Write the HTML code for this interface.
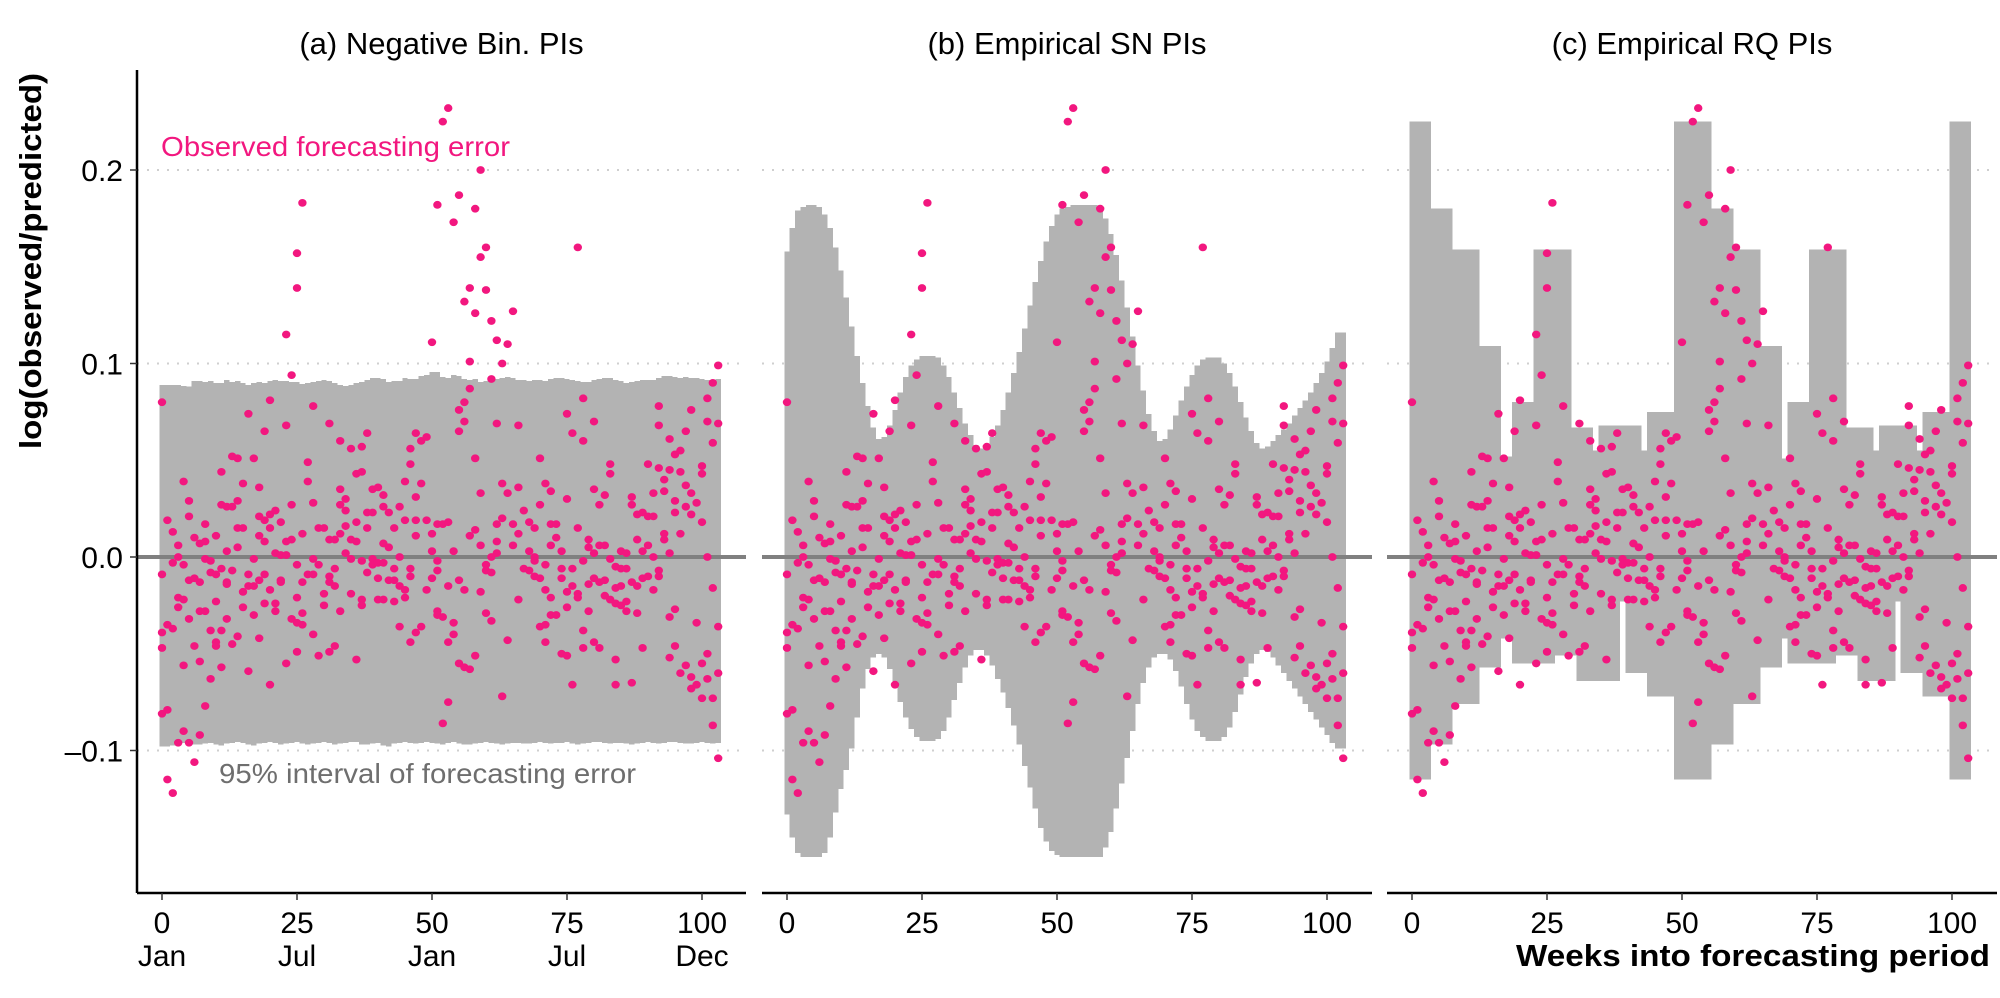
<!DOCTYPE html>
<html><head><meta charset="utf-8"><style>
html,body{margin:0;padding:0;background:#fff}
svg{display:block}
text{font-family:"Liberation Sans",sans-serif}
</style></head><body>
<svg id="chart" width="2000" height="998" viewBox="0 0 2000 998" xmlns="http://www.w3.org/2000/svg"></svg>
<script>
// ---------- data ----------
const panelTitles=["(a) Negative Bin. PIs","(b) Empirical SN PIs","(c) Empirical RQ PIs"];
const yTicks=[0.2,0.1,0.0,-0.1];
const yTickLabels=["0.2","0.1","0.0","\u20130.1"];
const xTicks=[0,25,50,75,100];
const monthLabels=["Jan","Jul","Jan","Jul","Dec"];
// observed errors, index = week
const obsByWeek=[
[.080,-.009,-.039,-.047,-.081],[.019,-.035,-.079,-.115],[.013,-.003,-.037,-.122],[.006,0,-.021,-.026,-.096],
[.039,-.004,-.022,-.056,-.090],[.029,.021,-.012,-.032,-.096],[.010,-.011,-.046,-.106],[.007,-.013,-.028,-.054,-.092],
[.017,.008,-.001,-.028,-.077],[-.002,-.008,-.038,-.063],[.011,-.009,-.023,-.044,-.046],[.044,.027,-.006,-.038,-.057],
[.026,.003,-.013,-.032,-.014],[.052,.026,-.007,-.045],[.051,.029,.015,.005,-.041],[.038,.015,-.018,-.026],
[.074,-.009,-.015,-.059],[.051,-.001,-.015,-.030],[.036,.021,.011,-.012,-.042],[.065,.019,.008,-.009,-.024],
[.081,.022,.015,-.017,-.066],[.024,.002,-.024,-.028],[.018,.001,-.012,-.013],[.115,.068,.008,.001,-.055],
[.094,.027,.009,-.032],[.157,.139,-.004,-.021,-.034,-.049],[.183,.012,-.013,-.029,-.035],[.049,.039,-.009],
[.078,.028,-.001,-.009,-.040],[.015,-.004,-.051],[.015,-.019,-.025],[.069,.009,-.010,-.013,-.049],
[.009,-.006,-.015,-.046],[.060,.035,.027,.012,-.028],[.030,.024,.016,.002],[.056,.009,-.001,-.019],
[.043,.018,.008,-.053],[.057,.044,-.002,-.022,-.025],[.064,.023,.015,-.008],[.035,.023,-.001,-.004],
[.036,-.003,-.011,-.022],[.032,.026,.007,-.003,-.022],[.023,.005,-.012],[.015,-.006,-.012,-.023],
[.026,0,-.015,-.036],[.039,.019,-.017,-.021],[.056,.048,-.006,-.010,-.044],[.064,.031,.019,.011,-.039],
[.060,.038,-.036],[.062,.019,-.017],[.111,.012,.003,-.011],[.182,.017,-.002,-.007,-.028,-.030],
[.225,.017,-.031,-.086],[.232,.018,-.015,-.044,-.075],[.173,.003,-.034,-.040],[.187,.076,.065,-.012,-.055],
[.132,.080,.070,-.017,-.057],[.139,.101,.087,.011,-.058],[.180,.126,.051,.014,-.051],[.200,.155,.033,.006,-.018],
[.160,.138,-.004,-.007,-.029],[.122,.092,0,-.008,-.033],[.112,.069,.017,.008,.002],[.100,.038,.020,-.072],
[.110,.033,-.043],[.127,.017,.006],[.068,.036,.012,-.022],[.024,-.006],
[.018,.003,-.007],[.015,0,-.002,-.010],[.051,.027,-.011,-.036],[.038,-.004,-.017,-.035,-.044],
[.034,.017,.006,-.021,-.030],[.017,.010,-.030],[.003,-.006,-.011,-.050],[.074,.030,-.018,-.026,-.051],
[.064,-.006,-.015,-.066],[.160,.015,-.019,-.021],[.082,.060,-.002,-.038,-.047],[.009,.005,-.014,-.028],
[.070,.035,.002,-.011,-.044],[.027,.006,-.013,-.047],[.032,.006,-.012,-.020],[.048,.043,-.001,-.022],
[-.005,-.016,-.024,-.053,-.066],[.003,-.006,-.015,-.025],[.002,-.006,-.023,-.028],[.031,.027,-.013,-.065],
[.022,.009,-.015,-.029],[.023,.003,-.011,-.047],[.048,.021,.006,-.010],[.033,.021,0,-.017],
[.078,.068,.046,-.007,-.010],[.040,.034,.012,.009],[.061,.045,.002,-.031,-.052],[.053,.029,.023,-.027,-.046],
[.055,.044,.012,-.060],[.065,.037,.026,-.056],[.076,.033,.022,-.062,-.068],[.028,-.034,-.066],
[.047,.043,.018,-.055,-.073],[.082,.070,0,-.050,-.063],[.090,.059,-.016,-.073,-.087],[.099,.069,-.036,-.060,-.104]
];
// (a) negative binomial interval, per week
const aUpper=[.089,.089,.089,.089,.0885,.088,.091,.091,.0905,.091,.09,.09,.0915,.0905,.091,.09,.089,.09,.0905,.09,.091,.0915,.091,.091,.0905,.0905,.0895,.09,.0905,.091,.0915,.091,.09,.089,.0885,.089,.09,.0905,.0915,.0925,.0925,.092,.0905,.091,.091,.0925,.092,.092,.0935,.094,.0955,.0955,.093,.0925,.094,.0935,.092,.0915,.092,.0905,.091,.0915,.092,.0925,.093,.0925,.0915,.0915,.091,.0915,.0915,.091,.092,.0925,.0925,.092,.0915,.091,.0905,.0905,.0915,.092,.0925,.0925,.0915,.091,.09,.0905,.091,.0915,.0915,.0915,.0925,.0935,.0935,.093,.0925,.093,.0925,.0925,.092,.0915,.0915,.092];
const aLower=[-.098,-.098,-.0975,-.097,-.096,-.0955,-.097,-.097,-.0965,-.096,-.097,-.0975,-.0965,-.096,-.0955,-.096,-.097,-.0975,-.0965,-.096,-.0955,-.096,-.097,-.0965,-.096,-.0955,-.0965,-.097,-.0965,-.096,-.0955,-.096,-.097,-.0965,-.096,-.0955,-.0955,-.097,-.097,-.0965,-.096,-.0975,-.098,-.0965,-.096,-.0955,-.096,-.0965,-.096,-.0955,-.096,-.0965,-.097,-.096,-.0955,-.0965,-.097,-.097,-.0965,-.096,-.0955,-.096,-.0965,-.097,-.0965,-.096,-.096,-.0965,-.0965,-.096,-.0955,-.096,-.0965,-.096,-.096,-.0955,-.0965,-.097,-.0965,-.096,-.0955,-.0955,-.096,-.0965,-.096,-.096,-.0965,-.097,-.0965,-.096,-.0955,-.096,-.0965,-.096,-.0955,-.0955,-.096,-.0965,-.0965,-.096,-.0955,-.096,-.0965,-.096];
// (b) empirical skew-normal interval, per week
const bUpper=[.158,.170,.179,.181,.182,.182,.181,.177,.170,.160,.148,.134,.119,.104,.090,.078,.067,.061,.062,.068,.076,.085,.093,.099,.102,.104,.104,.104,.103,.099,.093,.085,.077,.069,.063,.058,.056,.058,.062,.068,.076,.085,.095,.106,.118,.130,.142,.153,.163,.171,.177,.180,.181,.182,.182,.182,.182,.182,.180,.175,.167,.156,.143,.129,.114,.099,.086,.074,.065,.060,.061,.066,.073,.081,.088,.094,.099,.102,.103,.103,.103,.100,.095,.088,.080,.072,.065,.059,.056,.057,.060,.063,.066,.069,.073,.077,.081,.085,.090,.095,.101,.108,.116,.116];
const bLower=[-.133,-.145,-.153,-.155,-.155,-.155,-.155,-.153,-.145,-.132,-.120,-.110,-.099,-.083,-.068,-.058,-.052,-.050,-.052,-.058,-.066,-.075,-.083,-.089,-.093,-.095,-.095,-.095,-.094,-.090,-.083,-.074,-.065,-.057,-.051,-.048,-.048,-.051,-.056,-.063,-.070,-.078,-.087,-.097,-.108,-.119,-.130,-.140,-.147,-.152,-.154,-.155,-.155,-.155,-.155,-.155,-.155,-.155,-.155,-.150,-.142,-.130,-.117,-.104,-.090,-.076,-.065,-.057,-.052,-.050,-.050,-.053,-.059,-.067,-.076,-.084,-.090,-.093,-.095,-.095,-.095,-.093,-.088,-.080,-.071,-.062,-.055,-.050,-.048,-.049,-.052,-.056,-.060,-.064,-.068,-.072,-.076,-.080,-.084,-.088,-.092,-.096,-.099,-.099];
// (c) empirical rank-quantile interval, piecewise blocks (start week, value); end at 103.5
const cUpStart=[-0.5,3.5,7.5,12.5,16.5,18.5,22.5,29.5,33.5,34.5,42.5,43.5,48.5,55.5,59.5,64.5,68.5,69.5,73.5,80.5,85.5,86.5,93.5,94.5,99.5];
const cUpVal=[.225,.180,.159,.109,.052,.080,.159,.067,.055,.068,.055,.075,.225,.180,.159,.109,.051,.080,.159,.067,.055,.068,.055,.075,.225];
const cLoStart=[-0.5,3.5,7.5,12.5,16.5,18.5,26.5,30.5,38.5,39.5,43.5,48.5,55.5,59.5,64.5,68.5,69.5,78.5,82.5,89.5,90.5,94.5,99.5];
const cLoVal=[-.115,-.097,-.076,-.057,-.042,-.055,-.051,-.064,-.023,-.060,-.072,-.115,-.097,-.076,-.057,-.042,-.055,-.051,-.064,-.023,-.060,-.072,-.115];
const weekEnd=103.5;

// ---------- layout / scales ----------
const NS="http://www.w3.org/2000/svg";
const svg=document.getElementById('chart');
const panelLeft=[137,762,1387], panelRight=[746,1372,1997];
const x0=[162,787,1412], pxPerWeek=5.4;
const yTop=70, yBot=893;
function X(p,w){return x0[p]+w*pxPerWeek;}
function Y(v){return 557-v*1935;}
function el(tag,attrs,parent){const e=document.createElementNS(NS,tag);for(const k in attrs)e.setAttribute(k,attrs[k]);(parent||svg).appendChild(e);return e;}
function txt(s,attrs,parent){const e=el('text',attrs,parent);e.textContent=s;return e;}

function bandPath(p,upper,lower){
  let d='';
  for(let w=0;w<upper.length;w++){
    if(upper[w]===undefined||lower[w]===undefined)continue;
    d+=`M${X(p,w-0.5)},${Y(upper[w])}H${X(p,w+0.5)}V${Y(lower[w])}H${X(p,w-0.5)}Z`;
  }
  return d;
}
function blockPath(p,starts,vals){
  let d='';
  for(let i=0;i<starts.length;i++){
    const s=starts[i], e=(i+1<starts.length)?starts[i+1]:weekEnd;
    d+=`M${X(p,s)},${Y(vals[i])}H${X(p,e)}V${Y(0)}H${X(p,s)}Z`;
  }
  return d;
}

for(let p=0;p<3;p++){
  const g=el('g',{});
  
  
  [0.2,0.1,-0.1].forEach(v=>{
    const l=el('line',{x1:panelLeft[p],x2:panelRight[p],y1:Y(v),y2:Y(v),stroke:'#cfcfcf','stroke-width':2,'stroke-dasharray':'2 8'},g);
    
    
  });
  let d;
  if(p===0)d=bandPath(0,aUpper,aLower);
  else if(p===1)d=bandPath(1,bUpper,bLower);
  else d=blockPath(2,cUpStart,cUpVal)+blockPath(2,cLoStart,cLoVal);
  const band=el('path',{d:d,fill:'#b3b3b3','shape-rendering':'crispEdges'},g);
  
  
  const z=el('line',{x1:panelLeft[p],x2:panelRight[p],y1:Y(0),y2:Y(0),stroke:'#808080','stroke-width':4},g);
  
  
  obsByWeek.forEach((vals,w)=>{
    vals.forEach(v=>{
      const c=el('ellipse',{cx:X(p,w),cy:Y(v),rx:4.2,ry:3.9,fill:'#f2177f'},g);
      
      
    });
  });
  const ax=el('line',{x1:panelLeft[p],x2:panelRight[p],y1:yBot,y2:yBot,stroke:'#000','stroke-width':2.5},g);
  
  
  xTicks.forEach((t,i)=>{
    const tk=el('line',{x1:X(p,t),x2:X(p,t),y1:yBot,y2:yBot+7,stroke:'#333','stroke-width':1.5},g);
    
    
    const lb=txt(String(t),{x:X(p,t),y:933,'font-size':30,'text-anchor':'middle',fill:'#000'},g);
    
    
    if(p===0){
      const ml=txt(monthLabels[i],{x:X(p,t),y:966,'font-size':30,'text-anchor':'middle',fill:'#000'},g);
      
      
    }
  });
  const tt=txt(panelTitles[p],{x:(panelLeft[p]+panelRight[p])/2,y:54,'font-size':31,'text-anchor':'middle',fill:'#000'},g);
  
  
}
const ya=el('line',{x1:137,x2:137,y1:yTop,y2:yBot,stroke:'#000','stroke-width':2.5});


yTicks.forEach((t,i)=>{
  const tk=el('line',{x1:130,x2:137,y1:Y(t),y2:Y(t),stroke:'#333','stroke-width':1.5});
  
  
  const lb=txt(yTickLabels[i],{x:123,y:Y(t)+11,'font-size':30,'text-anchor':'end',fill:'#000'});
  
  
});
const yt=txt('log(observed/predicted)',{x:0,y:0,'font-size':31,'font-weight':'bold','text-anchor':'middle',textLength:376,lengthAdjust:'spacingAndGlyphs',transform:'translate(41,261) rotate(-90)',fill:'#000'});


const xt=txt('Weeks into forecasting period',{x:1990,y:966,'font-size':31,'font-weight':'bold','text-anchor':'end',textLength:474,lengthAdjust:'spacingAndGlyphs',fill:'#000'});


const a1=txt('Observed forecasting error',{x:161,y:156,'font-size':28,fill:'#f2177f',textLength:349,lengthAdjust:'spacingAndGlyphs'});


const a2=txt('95% interval of forecasting error',{x:219,y:783,'font-size':28,fill:'#6e6e6e',textLength:417,lengthAdjust:'spacingAndGlyphs'});


</script>
</body></html>
